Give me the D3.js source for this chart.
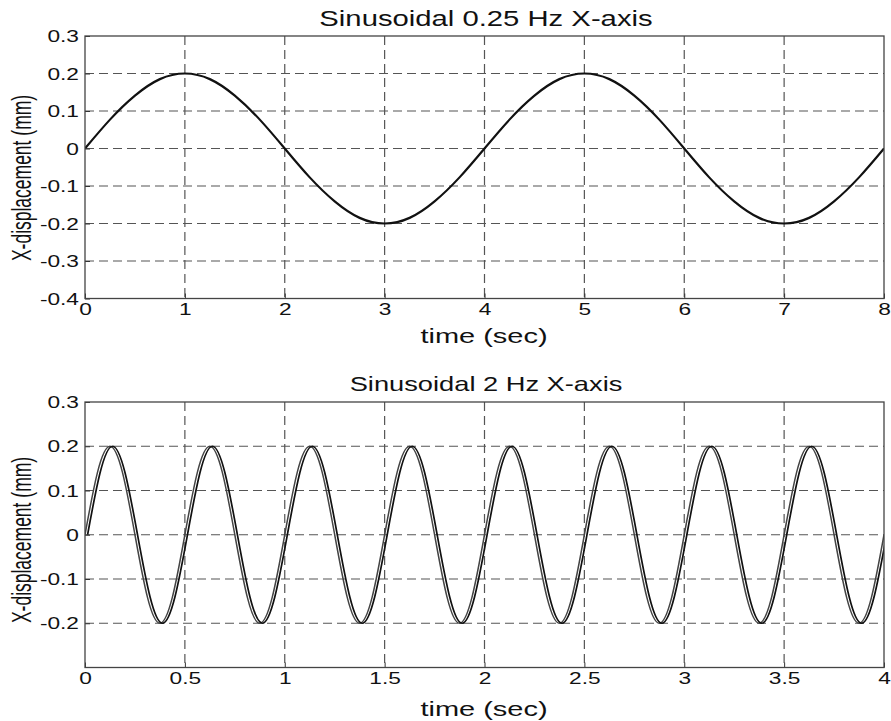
<!DOCTYPE html>
<html lang="en">
<head>
    <meta charset="UTF-8">
    <title>Sinusoidal X-axis displacement</title>
    <script src="https://d3js.org/d3.v7.min.js"></script>
    <style>
        body { margin: 0; background: #fff; }
        svg { display: block; }
        text { font-family: "Liberation Sans", Arial, sans-serif; fill: #111; }
    </style>
</head>
<body>
    <svg></svg>
    <script>
        // --- data ---
        // top: one sample every 0.25 s
        const topStep = 0.25;
        const topValues = [
            0, 0.077, 0.141, 0.185, 0.2, 0.185, 0.141, 0.077,
            0, -0.077, -0.141, -0.185, -0.2, -0.185, -0.141, -0.077,
            0, 0.077, 0.141, 0.185, 0.2, 0.185, 0.141, 0.077,
            0, -0.077, -0.141, -0.185, -0.2, -0.185, -0.141, -0.077,
            0
        ];
        // bottom: one sample every 1/16 s, two traces (second lags a little)
        const bottomStep = 0.0625;
        const bottomLag = 0.013;
        const bottomValuesA = [
            0, 0.141, 0.2, 0.141, 0, -0.141, -0.2, -0.141,
            0, 0.141, 0.2, 0.141, 0, -0.141, -0.2, -0.141,
            0, 0.141, 0.2, 0.141, 0, -0.141, -0.2, -0.141,
            0, 0.141, 0.2, 0.141, 0, -0.141, -0.2, -0.141,
            0, 0.141, 0.2, 0.141, 0, -0.141, -0.2, -0.141,
            0, 0.141, 0.2, 0.141, 0, -0.141, -0.2, -0.141,
            0, 0.141, 0.2, 0.141, 0, -0.141, -0.2, -0.141,
            0, 0.141, 0.2, 0.141, 0, -0.141, -0.2, -0.141,
            0
        ];
        const bottomValuesB = [
            0, 0.14, 0.2, 0.14, 0, -0.14, -0.2, -0.14,
            0, 0.14, 0.2, 0.14, 0, -0.14, -0.2, -0.14,
            0, 0.14, 0.2, 0.14, 0, -0.14, -0.2, -0.14,
            0, 0.14, 0.2, 0.14, 0, -0.14, -0.2, -0.14,
            0, 0.14, 0.2, 0.14, 0, -0.14, -0.2, -0.14,
            0, 0.14, 0.2, 0.14, 0, -0.14, -0.2, -0.14,
            0, 0.14, 0.2, 0.14, 0, -0.14, -0.2, -0.14,
            0, 0.14, 0.2, 0.14, 0, -0.14, -0.2, -0.14,
            0
        ];
        const topXTicks = [0, 1, 2, 3, 4, 5, 6, 7, 8];
        const topYTicks = [-0.4, -0.3, -0.2, -0.1, 0, 0.1, 0.2, 0.3];
        const bottomXTicks = [0, 0.5, 1, 1.5, 2, 2.5, 3, 3.5, 4];
        const bottomYTicks = [-0.2, -0.1, 0, 0.1, 0.2, 0.3];
        const titles = ["Sinusoidal 0.25 Hz X-axis", "Sinusoidal 2 Hz X-axis"];
        const xLabel = "time (sec)";
        const yLabel = "X-displacement (mm)";

        const width = 891, height = 721;
        const sx = 1.42; // the picture is stretched sideways
        const svg = d3.select("svg").attr("width", width).attr("height", height);

        const fmt = d => d === 0 ? "0" : String(d);

        const drawPanel = (cfg) => {
            const x = d3.scaleLinear().domain(cfg.xDomain).range([85, 884]);
            const y = d3.scaleLinear().domain(cfg.yDomain).range([cfg.bottom, cfg.top]);
            const g = svg.append("g");
            const clipId = "clip" + cfg.id;
            g.append("clipPath").attr("id", clipId)
                .append("rect")
                .attr("x", 85).attr("y", cfg.top)
                .attr("width", 799).attr("height", cfg.bottom - cfg.top);

            // grid
            g.append("g").selectAll("line")
                .data(cfg.xTicks.filter(d => d > cfg.xDomain[0] && d < cfg.xDomain[1]))
                .join("line")
                .attr("x1", d => x(d)).attr("x2", d => x(d))
                .attr("y1", cfg.top).attr("y2", cfg.bottom)
                .attr("stroke", "#555").attr("stroke-width", 1.2)
                .attr("stroke-dasharray", "9,5");
            g.append("g").selectAll("line")
                .data(cfg.yTicks.filter(d => d > cfg.yDomain[0] && d < cfg.yDomain[1]))
                .join("line")
                .attr("x1", 85).attr("x2", 884)
                .attr("y1", d => y(d)).attr("y2", d => y(d))
                .attr("stroke", "#555").attr("stroke-width", 1.2)
                .attr("stroke-dasharray", "9,5");

            // curves
            const line = d3.line()
                .x(d => x(d.t)).y(d => y(d.v))
                .curve(d3.curveNatural);
            cfg.series.forEach(s => {
                const pts = s.values.map((v, i) => ({t: s.offset + i * s.step, v}));
                g.append("path")
                    .datum(pts)
                    .attr("clip-path", `url(#${clipId})`)
                    .attr("fill", "none")
                    .attr("stroke", s.color)
                    .attr("stroke-width", s.width)
                    .attr("d", line);
            });

            // axes
            const ax = g.append("g")
                .attr("transform", `translate(0,${cfg.bottom})`)
                .call(d3.axisBottom(x).tickValues(cfg.xTicks).tickFormat(fmt).tickSize(-5).tickPadding(0));
            const ay = g.append("g")
                .attr("transform", "translate(85,0)")
                .call(d3.axisLeft(y).tickValues(cfg.yTicks).tickFormat(fmt).tickSize(-5).tickPadding(0));
            [ax, ay].forEach(a => {
                a.select(".domain").remove();
                a.selectAll(".tick line").attr("stroke", "#333");
                a.selectAll("text").attr("font-size", 16).attr("fill", "#111");
            });
            ax.selectAll("text")
                .attr("y", 0).attr("dy", "1.05em")
                .attr("transform", `scale(${sx},1)`);
            ay.selectAll("text")
                .attr("x", -6 / sx).attr("dy", "0.35em")
                .attr("transform", `scale(${sx},1)`);

            // box
            g.append("rect")
                .attr("x", 85).attr("y", cfg.top)
                .attr("width", 799).attr("height", cfg.bottom - cfg.top)
                .attr("fill", "none").attr("stroke", "#444").attr("stroke-width", 1.3);

            // labels
            g.append("text")
                .attr("transform", `translate(486,${cfg.titleY}) scale(${cfg.titleSx},1)`)
                .attr("text-anchor", "middle")
                .attr("font-size", cfg.titleSize)
                .text(cfg.title);
            g.append("text")
                .attr("transform", `translate(484,${cfg.xLabelY}) scale(1.45,1)`)
                .attr("text-anchor", "middle")
                .attr("font-size", 20)
                .text(xLabel);
            g.append("text")
                .attr("transform", `translate(31,${cfg.yLabelY}) scale(1.55,1) rotate(-90)`)
                .attr("text-anchor", "middle")
                .attr("font-size", 17.5)
                .text(yLabel);
        };

        drawPanel({
            id: 1, xDomain: [0, 8], yDomain: [-0.4, 0.3], top: 36, bottom: 298.5,
            xTicks: topXTicks, yTicks: topYTicks,
            title: titles[0], titleY: 26, titleSize: 22, titleSx: 1.33,
            xLabelY: 343, yLabelY: 178,
            series: [{values: topValues, step: topStep, offset: 0, color: "#111", width: 2.2}]
        });
        drawPanel({
            id: 2, xDomain: [0, 4], yDomain: [-0.3, 0.3], top: 402, bottom: 667.5,
            xTicks: bottomXTicks, yTicks: bottomYTicks,
            title: titles[1], titleY: 391, titleSize: 20.5, titleSx: 1.33,
            xLabelY: 716, yLabelY: 540,
            series: [
                {values: bottomValuesA, step: bottomStep, offset: 0, color: "#444", width: 1.5},
                {values: bottomValuesB, step: bottomStep, offset: bottomLag, color: "#111", width: 1.7}
            ]
        });
    </script>
</body>
</html>
